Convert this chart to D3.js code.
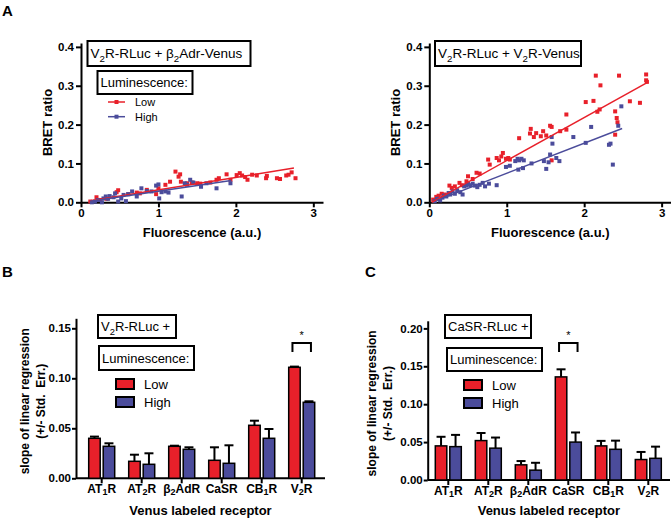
<!DOCTYPE html>
<html><head><meta charset="utf-8">
<script src="https://cdn.jsdelivr.net/npm/d3@7"></script>
<style>
body{margin:0;background:#fff;}
svg{font-family:"Liberation Sans",Arial,Helvetica,sans-serif;}
</style></head><body>
<svg id="c" width="671" height="519"></svg>
<script>
// ---------- DATA ----------
// Panel A left: V2R-RLuc + b2Adr-Venus  [fluorescence, BRET ratio]
const aLeftLow = [[0.12,0.002],[0.2,0.013],[0.25,0.006],[0.33,0.009],[0.46,0.026],[0.48,0.031],[0.61,0.021],[0.72,0.025],[0.76,0.023],[0.85,0.032],[0.97,0.021],[1.0,0.036],[1.09,0.045],[1.15,0.053],[1.22,0.079],[1.26,0.066],[1.28,0.072],[1.29,0.053],[1.37,0.049],[1.43,0.051],[1.5,0.049],[1.54,0.048],[1.67,0.051],[1.75,0.058],[1.78,0.062],[1.88,0.072],[1.93,0.058],[2.01,0.07],[2.05,0.075],[2.08,0.069],[2.12,0.065],[2.15,0.058],[2.21,0.071],[2.27,0.069],[2.39,0.062],[2.4,0.068],[2.53,0.062],[2.57,0.06],[2.65,0.069],[2.68,0.071],[2.72,0.077],[2.77,0.062]];
const aLeftHigh = [[0.14,0.0],[0.18,0.002],[0.22,0.006],[0.27,0.0],[0.29,0.01],[0.32,0.015],[0.35,0.009],[0.37,0.016],[0.42,0.013],[0.44,0.023],[0.48,0.002],[0.52,0.01],[0.55,0.019],[0.58,0.003],[0.61,0.021],[0.66,0.028],[0.72,0.015],[0.78,0.036],[0.85,0.029],[0.91,0.028],[0.97,0.043],[1.0,0.046],[1.01,0.01],[1.04,0.026],[1.09,0.028],[1.13,0.025],[1.3,0.015],[1.34,0.049],[1.37,0.045],[1.41,0.058],[1.45,0.051],[1.55,0.04],[1.62,0.049],[1.75,0.036],[1.93,0.049]];
const aLeftFitLow = [[0.12,0.004],[2.75,0.088]];
const aLeftFitHigh = [[0.12,0.003],[1.94,0.056]];
// Panel A right: V2R-RLuc + V2R-Venus
const aRightLow = [[0.05,0.007],[0.09,0.014],[0.12,0.017],[0.16,0.022],[0.2,0.02],[0.26,0.043],[0.29,0.037],[0.33,0.041],[0.39,0.05],[0.42,0.044],[0.48,0.054],[0.5,0.067],[0.56,0.06],[0.61,0.076],[0.65,0.074],[0.76,0.11],[0.78,0.097],[0.87,0.114],[0.9,0.108],[0.93,0.118],[0.95,0.127],[0.99,0.112],[1.02,0.114],[1.04,0.11],[1.16,0.165],[1.3,0.177],[1.31,0.189],[1.35,0.168],[1.38,0.178],[1.44,0.17],[1.47,0.183],[1.51,0.172],[1.56,0.197],[1.58,0.194],[1.58,0.108],[1.69,0.183],[1.77,0.187],[1.77,0.226],[2.02,0.258],[2.12,0.261],[2.15,0.326],[2.17,0.233],[2.2,0.239],[2.21,0.301],[2.4,0.234],[2.42,0.217],[2.43,0.206],[2.4,0.174],[2.45,0.326],[2.59,0.26],[2.72,0.256],[2.8,0.314],[2.8,0.329],[2.81,0.31]];
const aRightHigh = [[0.07,0.003],[0.1,0.009],[0.14,0.005],[0.17,0.012],[0.19,0.017],[0.22,0.015],[0.25,0.024],[0.27,0.02],[0.3,0.028],[0.33,0.022],[0.36,0.031],[0.4,0.026],[0.43,0.02],[0.45,0.041],[0.48,0.043],[0.5,0.047],[0.53,0.044],[0.56,0.048],[0.59,0.043],[0.62,0.039],[0.65,0.045],[0.69,0.05],[0.72,0.041],[0.77,0.048],[0.87,0.044],[0.99,0.091],[1.04,0.094],[1.11,0.106],[1.14,0.112],[1.16,0.108],[1.19,0.112],[1.22,0.108],[1.15,0.084],[1.21,0.088],[1.32,0.1],[1.48,0.106],[1.54,0.103],[1.51,0.086],[1.56,0.123],[1.58,0.168],[1.59,0.151],[1.64,0.114],[1.68,0.106],[1.86,0.168],[2.02,0.153],[2.09,0.194],[2.32,0.148],[2.34,0.151],[2.37,0.097],[2.44,0.197],[2.48,0.247]];
const aRightFitLow = [[0.03,0.0],[2.83,0.31]];
const aRightFitHigh = [[0.1,0.005],[2.49,0.19]];
const aXTicks = [0,1,2,3];
const aYTicks = [0,0.1,0.2,0.3,0.4];

// Panels B and C: slope of linear regression
const receptors = ["AT_1R","AT_2R","β_2AdR","CaSR","CB_1R","V_2R"];
const bLow     = [0.040,0.017,0.032,0.018,0.053,0.111];
const bLowErr  = [0.0017,0.0066,0.0006,0.013,0.0046,0.0007];
const bHigh    = [0.032,0.014,0.029,0.015,0.040,0.076];
const bHighErr = [0.003,0.011,0.002,0.018,0.0093,0.001];
const bYTicks  = [0,0.05,0.10,0.15];
const cLow     = [0.045,0.052,0.020,0.136,0.045,0.027];
const cLowErr  = [0.012,0.010,0.005,0.010,0.0066,0.010];
const cHigh    = [0.044,0.042,0.013,0.050,0.0405,0.0286];
const cHighErr = [0.0155,0.014,0.0097,0.0127,0.0114,0.0154];
const cYTicks  = [0,0.05,0.10,0.15,0.20];
const groups = ["Low","High"];

// ---------- DRAW ----------
const svg = d3.select("#c");
const RED = "#e8202a", BLUE = "#4b4c9b";
const colorOf = {Low: RED, High: BLUE};

function rich(sel, str, subSize, shift) {
  const parts = str.split(/(_.)/).filter(p => p);
  let down = false;
  parts.forEach(p => {
    const t = sel.append("tspan");
    if (p[0] === "_") { t.attr("dy", shift).attr("font-size", subSize).text(p.slice(1)); down = true; }
    else { if (down) { t.attr("dy", -shift); down = false; } t.text(p); }
  });
}
function styleAxis(g, fs) {
  g.selectAll(".domain,.tick line").attr("stroke", "#000").attr("stroke-width", 2);
  g.selectAll("text").attr("font-size", fs).attr("font-weight", "bold").attr("fill", "#000")
    .attr("font-family", "Liberation Sans, Arial, sans-serif");
}
function box(x, y, w, h, str, fs) {
  svg.append("rect").attr("x", x).attr("y", y).attr("width", w).attr("height", h)
    .attr("fill", "#fff").attr("stroke", "#000").attr("stroke-width", 2);
  const t = svg.append("text").attr("x", x + 3).attr("y", y + h / 2 + fs * 0.36).attr("font-size", fs);
  rich(t, str, fs * 0.72, 3.5);
}
function panelLabel(x, y, s) {
  svg.append("text").attr("x", x).attr("y", y).attr("font-size", 15).attr("font-weight", "bold").text(s);
}

function scatter(x0, low, high, fitLow, fitHigh) {
  const x = d3.scaleLinear([0, 3.125], [x0, x0 + 242]);
  const y = d3.scaleLinear([0, 0.41], [202.3, 43]);
  const gx = svg.append("g").attr("transform", `translate(0,${y(0)})`)
    .call(d3.axisBottom(x).tickValues(aXTicks).tickFormat(d3.format("d")).tickSize(5).tickSizeOuter(0).tickPadding(2));
  styleAxis(gx, 11.5);
  const gy = svg.append("g").attr("transform", `translate(${x(0)},0)`)
    .call(d3.axisLeft(y).tickValues(aYTicks).tickFormat(d3.format(".1f")).tickSize(5).tickSizeOuter(0).tickPadding(2));
  styleAxis(gy, 11.5);
  const pts = [[low, RED], [high, BLUE]];
  pts.forEach(([d, c]) => {
    svg.append("g").selectAll("rect").data(d).join("rect")
      .attr("x", p => x(p[0]) - 2).attr("y", p => y(p[1]) - 2).attr("width", 4).attr("height", 4).attr("fill", c);
  });
  const line = d3.line().x(p => x(p[0])).y(p => y(p[1]));
  svg.append("path").attr("d", line(fitLow)).attr("stroke", RED).attr("stroke-width", 1.5).attr("fill", "none");
  svg.append("path").attr("d", line(fitHigh)).attr("stroke", BLUE).attr("stroke-width", 1.5).attr("fill", "none");
  svg.append("text").attr("transform", `translate(${x0 - 29},122.5) rotate(-90)`).attr("text-anchor", "middle")
    .attr("font-size", 13).attr("font-weight", "bold").text("BRET ratio");
  svg.append("text").attr("x", (x0 + x0 + 242) / 2).attr("y", 237).attr("text-anchor", "middle")
    .attr("font-size", 13).attr("font-weight", "bold").text("Fluorescence (a.u.)");
}

function bars(xAxis0, xAxis1, c0, y0, yTop, yMax, ticks, low, lowErr, high, highErr, yTitleX) {
  const x = d3.scaleBand(receptors, [c0 - 20, c0 - 20 + 40 * receptors.length]);
  const xs = d3.scaleBand(groups, [-13, 13]).paddingInner(0.207);
  const y = d3.scaleLinear([0, yMax], [y0, yTop]);
  const gx = svg.append("g").attr("transform", `translate(0,${y0})`)
    .call(d3.axisBottom(x).tickSize(5).tickSizeOuter(0).tickPadding(1));
  gx.select(".domain").attr("d", `M${xAxis0},0H${xAxis1}`);
  styleAxis(gx, 12);
  gx.selectAll(".tick text").each(function(d) { const t = d3.select(this).text(""); rich(t, d, 9, 2.5); });
  const gy = svg.append("g").attr("transform", `translate(${xAxis0},0)`)
    .call(d3.axisLeft(y).tickValues(ticks).tickFormat(d3.format(".2f")).tickSize(4).tickSizeOuter(0).tickPadding(1));
  styleAxis(gy, 11.5);
  const rows = receptors.map((r, i) => ({r, Low: low[i], LowE: lowErr[i], High: high[i], HighE: highErr[i]}));
  groups.forEach(gname => {
    const gg = svg.append("g");
    rows.forEach(d => {
      const cx = x(d.r) + x.bandwidth() / 2 + xs(gname) + xs.bandwidth() / 2;
      const top = y(d[gname] + d[gname + "E"]);
      gg.append("line").attr("x1", cx).attr("x2", cx).attr("y1", y(d[gname])).attr("y2", top)
        .attr("stroke", "#000").attr("stroke-width", 2);
      gg.append("line").attr("x1", cx - 4.5).attr("x2", cx + 4.5).attr("y1", top).attr("y2", top)
        .attr("stroke", "#000").attr("stroke-width", 2);
      gg.append("rect").attr("x", x(d.r) + x.bandwidth() / 2 + xs(gname)).attr("width", xs.bandwidth())
        .attr("y", y(d[gname])).attr("height", y0 - y(d[gname]))
        .attr("fill", colorOf[gname]).attr("stroke", "#000").attr("stroke-width", 1.5);
    });
  });
  const t = svg.append("text").attr("transform", `translate(${yTitleX},${(y0 + yTop) / 2 + 3}) rotate(-90)`)
    .attr("text-anchor", "middle").attr("font-size", 12).attr("font-weight", "bold");
  t.append("tspan").attr("x", 0).attr("dy", 0).text("slope of linear regression");
  t.append("tspan").attr("x", 0).attr("dy", 16).text("(+/- Std.\u00a0\u00a0Err.)");
  svg.append("text").attr("x", (xAxis0 + xAxis1) / 2).attr("y", 515).attr("text-anchor", "middle")
    .attr("font-size", 13).attr("font-weight", "bold").text("Venus labeled receptor");
  return {x, xs, y};
}

function barLegend(x, y) {
  groups.forEach((gname, i) => {
    svg.append("rect").attr("x", x).attr("y", y + i * 18).attr("width", 18).attr("height", 10)
      .attr("fill", colorOf[gname]).attr("stroke", "#000").attr("stroke-width", 2);
    svg.append("text").attr("x", x + 28).attr("y", y + i * 18 + 10).attr("font-size", 13).text(gname);
  });
}
function sig(s, cat, yBr) {
  const c = s.x(cat) + s.x.bandwidth() / 2;
  const xa = c + s.xs("Low") + s.xs.bandwidth() / 2 - 2, xb = c + s.xs("High") + s.xs.bandwidth() / 2 + 2;
  svg.append("path").attr("d", `M${xa},${yBr + 9}V${yBr}H${xb}V${yBr + 9}`).attr("fill", "none")
    .attr("stroke", "#000").attr("stroke-width", 2);
  svg.append("text").attr("x", (xa + xb) / 2).attr("y", yBr - 4).attr("text-anchor", "middle")
    .attr("font-size", 11).text("*");
}

// Panel A
panelLabel(2, 16, "A");
scatter(81, aLeftLow, aLeftHigh, aLeftFitLow, aLeftFitHigh);
scatter(429.3, aRightLow, aRightHigh, aRightFitLow, aRightFitHigh);
box(87.5, 41, 163, 25, "V_2R-RLuc + β_2Adr-Venus", 13.5);
box(97.5, 71, 95, 23, "Luminescence:", 13);
groups.forEach((gname, i) => {
  const yy = 102 + i * 14.7;
  svg.append("line").attr("x1", 108).attr("x2", 125).attr("y1", yy).attr("y2", yy).attr("stroke", colorOf[gname]).attr("stroke-width", 1.5);
  svg.append("rect").attr("x", 114.5).attr("y", yy - 2).attr("width", 4).attr("height", 4).attr("fill", colorOf[gname]);
  svg.append("text").attr("x", 135).attr("y", yy + 4).attr("font-size", 11).text(gname);
});
box(435, 41, 146, 25, "V_2R-RLuc + V_2R-Venus", 13.5);

// Panel B
panelLabel(2, 277, "B");
const sB = bars(76, 325, 101.7, 478.3, 318.3, 0.16, bYTicks, bLow, bLowErr, bHigh, bHighErr, 29);
box(98, 315, 78, 23, "V_2R-RLuc +", 13);
box(99, 346, 95, 24, "Luminescence:", 13);
barLegend(116, 379);
sig(sB, "V_2R", 343);

// Panel C
panelLabel(365, 277, "C");
const sC = bars(427.7, 670, 448.3, 480, 320.8, 0.21, cYTicks, cLow, cLowErr, cHigh, cHighErr, 376);
box(445, 315, 86, 23, "CaSR-RLuc +", 13);
box(447, 348, 95, 23, "Luminescence:", 13);
barLegend(464, 380);
sig(sC, "CaSR", 343);
</script>
</body></html>
